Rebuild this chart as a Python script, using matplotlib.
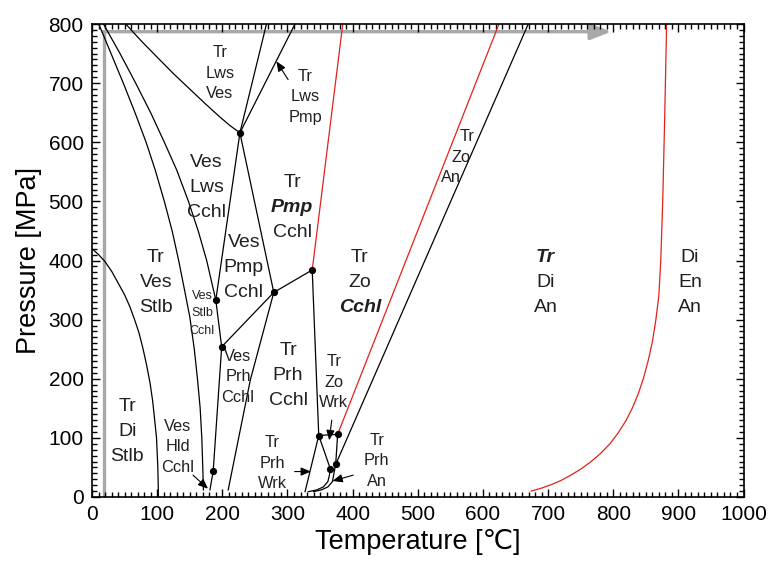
import numpy as np
import matplotlib
matplotlib.use("Agg")
import matplotlib.pyplot as plt
from matplotlib.ticker import MultipleLocator

plt.rcParams['font.family'] = ['Liberation Sans', 'DejaVu Sans']

# invariant points (T in C, P in MPa)
pA = (227, 616)
pB = (190, 333)
pC = (199, 254)
pD = (279, 346)
pE = (338, 384)
pF = (186, 44)
pG = (348, 104)
pH = (377, 106)
pI = (366, 47)
pJ = (374, 55)
dots = [pA, pB, pC, pD, pE, pF, pG, pH, pI, pJ]

# curved boundaries
stlb_T = [0, 10, 20, 30, 40, 50, 58, 65, 72, 78, 84, 89, 93, 96, 99, 101, 102]
stlb_P = [420, 410, 398, 382, 362, 342, 322, 301, 278, 252, 222, 193, 163, 132, 100, 50, 0]

lineb_T = [10, 48, 66, 83, 97, 111, 123, 133, 142, 150, 157, 162, 166, 168.5, 170, 171]
lineb_P = [801, 700, 650, 600, 553, 500, 450, 400, 350, 305, 250, 198, 150, 100, 50, 12]

linec_T = [17, 43, 67, 90, 111, 130, 148, 163, 176, 190, 199, 186, 181]
linec_P = [801, 750, 700, 650, 600, 553, 500, 450, 400, 333, 254, 44, 12]

lws_T = [51, 75, 99, 125, 150, 174, 196, 212, 227]
lws_P = [801, 772, 745, 716, 690, 665, 643, 628, 616]

dbot_T = [279, 243, 209]
dbot_P = [346, 198, 12]

curveI_T = [366, 364, 362, 355, 345, 332]
curveI_P = [47, 35, 26, 17, 12, 9]
curveJ_T = [374, 371, 369, 362, 352, 340]
curveJ_P = [55, 38, 26, 17, 12, 9]

red_T = [674, 690, 705, 720, 735, 750, 765, 780, 795, 808, 820, 830, 839, 847,
         854, 860, 865, 870, 873, 876, 879, 882]
red_P = [10, 15, 21, 28, 37, 47, 59, 73, 90, 109, 130, 152, 176, 203,
         232, 262, 296, 340, 400, 500, 640, 801]

# straight segments
segments = [
    [pA, (268, 801)],
    [pA, (312, 801)],
    [pA, pB],
    [pA, pD],
    [pC, pD, pE],
    [pE, pG],
    [pG, (327, 9)],
    [pG, pH],
    [pG, pI],
    [pH, pJ],
    [pJ, (670, 801)],
]
red_segments = [
    [pE, (385, 801)],
    [pH, (625, 801)],
]

# labels: (T, P, lines, size class, styles)
labels = [
    (196, 717, ["Tr", "Lws", "Ves"], "m", None),
    (327, 677, ["Tr", "Lws", "Pmp"], "m", None),
    (176, 523, ["Ves", "Lws", "Cchl"], "b", None),
    (307, 489, ["Tr", "Pmp", "Cchl"], "b", ["n", "bi", "n"]),
    (233, 389, ["Ves", "Pmp", "Cchl"], "b", None),
    (98, 362, ["Tr", "Ves", "Stlb"], "b", None),
    (169, 311, ["Ves", "Stlb", "Cchl"], "s", None),
    (224, 203, ["Ves", "Prh", "Cchl"], "m", None),
    (301, 206, ["Tr", "Prh", "Cchl"], "b", None),
    (411, 362, ["Tr", "Zo", "Cchl"], "b", ["n", "n", "bi"]),
    (371, 194, ["Tr", "Zo", "Wrk"], "m", None),
    (54, 110, ["Tr", "Di", "Stlb"], "b", None),
    (132, 85, ["Ves", "Hld", "Cchl"], "m", None),
    (277, 57, ["Tr", "Prh", "Wrk"], "m", None),
    (437, 61, ["Tr", "Prh", "An"], "m", None),
    (696, 362, ["Tr", "Di", "An"], "b", ["bi", "n", "n"]),
    (918, 362, ["Di", "En", "An"], "b", None),
]
zoan_T = [576, 567, 551]
zoan_P = [609, 575, 541]
zoan_txt = ["Tr", "Zo", "An"]

# arrows: (tail, head)
arrows = [
    ((301, 706), (283, 737)),
    ((368, 130), (364, 96)),
    ((311, 43), (336, 43)),
    ((401, 37), (369, 27)),
    ((155, 37), (178, 14)),
]

sizes = {"b": (14.0, 18.0), "m": (11.8, 14.8), "s": (9.0, 12.6)}

fig = plt.figure(figsize=(7.74, 5.61), dpi=100)
ax = fig.add_axes([0.1189, 0.1141, 0.8417, 0.8431])

lw = 0.9
ax.plot([18, 18], [0, 787], color='#a8a8a8', lw=2.4, solid_capstyle='butt', zorder=1)
ax.annotate('', xy=(797, 787), xytext=(16, 787),
            arrowprops=dict(arrowstyle='-|>,head_length=0.9,head_width=0.35',
                            color='#a8a8a8', lw=2.4, mutation_scale=14, shrinkA=0, shrinkB=0),
            zorder=1)

ax.plot(stlb_T, stlb_P, color='k', lw=lw)
ax.plot(lineb_T, lineb_P, color='k', lw=lw)
ax.plot(linec_T, linec_P, color='k', lw=lw)
ax.plot(lws_T, lws_P, color='k', lw=lw)
ax.plot(dbot_T, dbot_P, color='k', lw=lw)
ax.plot(curveI_T, curveI_P, color='k', lw=lw)
ax.plot(curveJ_T, curveJ_P, color='k', lw=lw)
for seg in segments:
    xs, ys = zip(*seg)
    ax.plot(xs, ys, color='k', lw=lw)
for seg in red_segments:
    xs, ys = zip(*seg)
    ax.plot(xs, ys, color='#e32119', lw=lw)
ax.plot(red_T, red_P, color='#e32119', lw=lw)

dx, dy = zip(*dots)
ax.plot(dx, dy, 'o', color='k', ms=4.2, zorder=5)

for tail, head in arrows:
    ax.annotate('', xy=head, xytext=tail,
                arrowprops=dict(arrowstyle='-|>,head_length=0.6,head_width=0.25',
                                color='k', lw=0.8, mutation_scale=10,
                                shrinkA=0, shrinkB=0))

for T, P, lines, cls, styles in labels:
    fs, gap = sizes[cls]
    n = len(lines)
    for i, s in enumerate(lines):
        off = (n - 1) / 2 * gap - i * gap
        bi = styles is not None and styles[i] == "bi"
        ax.annotate(s, (T, P), xytext=(0, off), textcoords='offset points',
                    ha='center', va='center', fontsize=fs, color='#231f20',
                    fontweight='bold' if bi else 'normal',
                    fontstyle='italic' if bi else 'normal')

for T, P, s in zip(zoan_T, zoan_P, zoan_txt):
    ax.text(T, P, s, ha='center', va='center', fontsize=11.8, color='#231f20')

ax.set_xlim(0, 1000)
ax.set_ylim(0, 800)
ax.xaxis.set_major_locator(MultipleLocator(100))
ax.xaxis.set_minor_locator(MultipleLocator(10))
ax.yaxis.set_major_locator(MultipleLocator(100))
ax.yaxis.set_minor_locator(MultipleLocator(10))
ax.tick_params(which='both', direction='in', top=True, right=True, labelsize=15, width=1)
ax.tick_params(which='major', length=6, pad=6)
ax.tick_params(which='minor', length=3.5)
for sp in ax.spines.values():
    sp.set_linewidth(1.2)

ax.set_xlabel('Temperature [℃]', fontsize=19.5, labelpad=3)
ax.set_ylabel('Pressure [MPa]', fontsize=19.5, labelpad=5)

fig.savefig('out.png', dpi=100)
